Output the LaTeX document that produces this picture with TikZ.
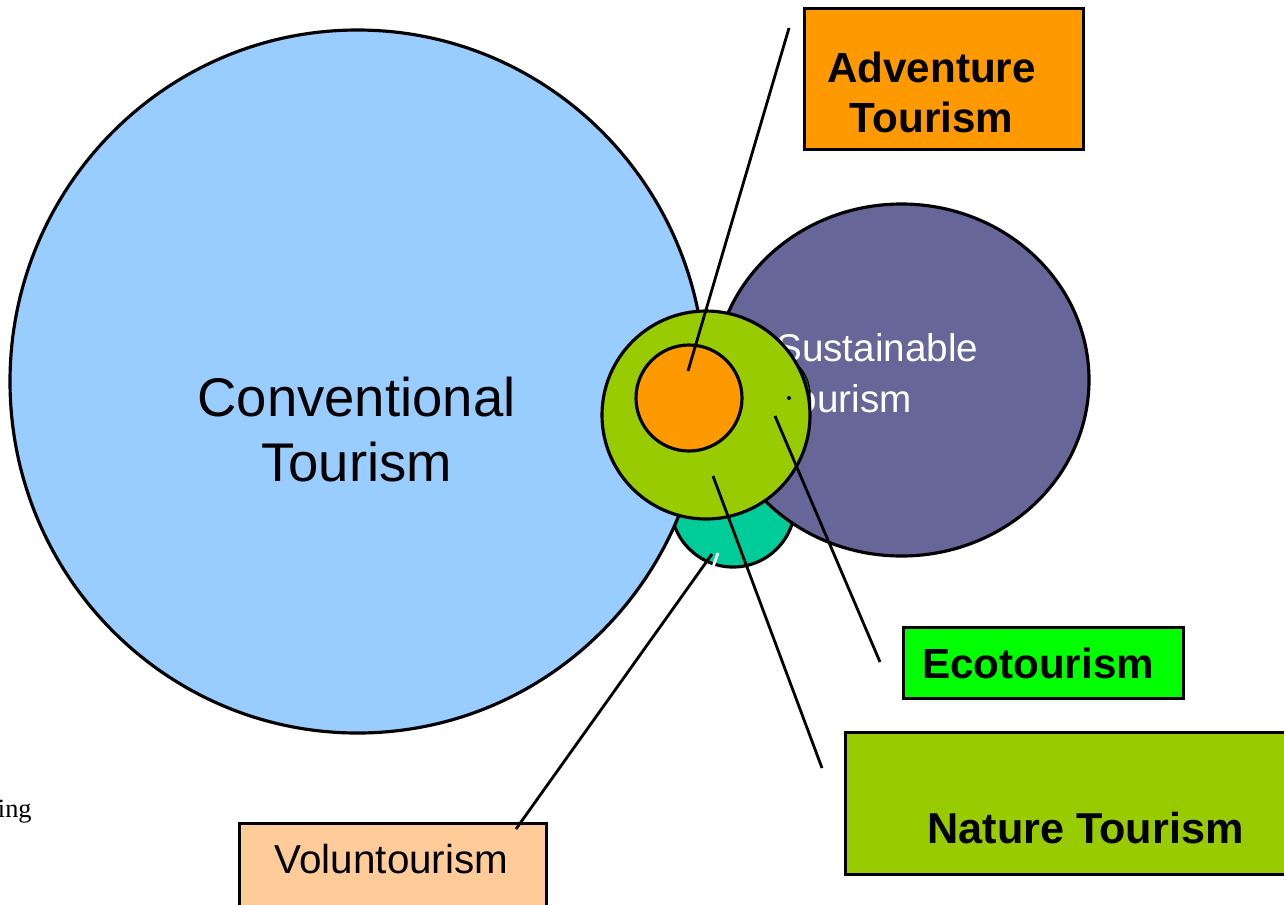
\documentclass[tikz,border=0pt]{standalone}
\usepackage{fontspec}
\setmainfont{Liberation Sans}
\newfontfamily\ingfont{Liberation Serif}
\definecolor{convblue}{HTML}{99CCFF}
\definecolor{sustpurple}{HTML}{666699}
\definecolor{volteal}{HTML}{00CC99}
\definecolor{natgreen}{HTML}{99CC00}
\definecolor{advorange}{HTML}{FF9900}
\definecolor{ecogreen}{HTML}{00FF00}
\definecolor{volpeach}{HTML}{FFCC99}

\begin{document}
\begin{tikzpicture}[x=0.02cm, y=-0.02cm,
  outline/.style={draw=black, line width=1.8pt},
  tagbox/.style={draw=black, line width=1.7pt, rectangle, inner sep=0pt, anchor=north west},
  tagtext/.style={font=\bfseries\fontsize{24}{28}\selectfont, align=center, inner sep=0pt},
  pointer/.style={black, line width=1.6pt}]
\useasboundingbox (0,0) rectangle (1284,904);

\begin{scope}
% circles, back to front
\draw[outline, fill=volteal] (733,505) ellipse [x radius=62, y radius=62];
\draw[outline, fill=convblue] (357.5,381.5) ellipse [x radius=347.5, y radius=351.5];
\draw[outline, fill=sustpurple] (901.5,380) ellipse [x radius=187.5, y radius=176];
\node[text=white, font=\fontsize{22}{29}\selectfont, align=left, anchor=west, inner sep=0pt] (sust) at (776,373.5) {Sustainable\\Tourism};
\draw[black, line width=0.8pt, fill=green!60!black] (768,395) ellipse [x radius=42, y radius=42];
\draw[outline, fill=natgreen] (706,415) ellipse [x radius=104, y radius=104];
\draw[outline, fill=advorange] (689,398) ellipse [x radius=53, y radius=53];
\fill[black] (789,398) circle [radius=2];

\node[font=\fontsize{31}{37}\selectfont, align=center, inner sep=0pt] (conv) at (356.5,429.5) {Conventional\\Tourism};
\node[font=\ingfont\fontsize{15}{18}\selectfont, anchor=base east, inner sep=0pt] (ing) at (32,817) {ing};

% labels
\node[tagbox, fill=advorange, minimum width=5.58cm, minimum height=2.82cm] (adv) at (803,7) {};
\node[tagbox, fill=ecogreen, minimum width=5.6cm, minimum height=1.42cm] (eco) at (902,626) {};
\node[tagbox, fill=natgreen, minimum width=9.2cm, minimum height=2.84cm] (nat) at (844,731) {};
\node[tagbox, fill=volpeach, minimum width=6.14cm, minimum height=2.2cm] (vol) at (238,822) {};

\node[tagtext] (advtext) at ([shift={(-12.5,13.5)}]adv.center) {Adventure\\Tourism};
\node[tagtext, anchor=base] (ecotext) at (1038,678) {Ecotourism};
\node[tagtext, anchor=base, font=\bfseries\fontsize{24.6}{28}\selectfont] (nattext) at (1085.5,843) {Nature Tourism};
\node[font=\fontsize{23}{28}\selectfont, anchor=base, inner sep=0pt] (voltext) at (391.5,873) {Voluntourism};

% pointers
\coordinate (advtip) at (688,371);
\coordinate (advend) at (789,28);
\coordinate (ecotip) at (775,416);
\coordinate (ecoend) at (880,662);
\coordinate (nattip) at (713,476);
\coordinate (natend) at (822,768);
\coordinate (voltip) at (712,554);
\coordinate (volend) at (516,829);

\draw[pointer] (advend) -- (advtip);
\draw[pointer] (ecoend) -- (ecotip);
\draw[pointer] (natend) -- (nattip);
\draw[pointer] (volend) -- (voltip);
\draw[white, line width=1.6pt] (713,567) -- (718,553);
\end{scope}

\end{tikzpicture}
\end{document}
